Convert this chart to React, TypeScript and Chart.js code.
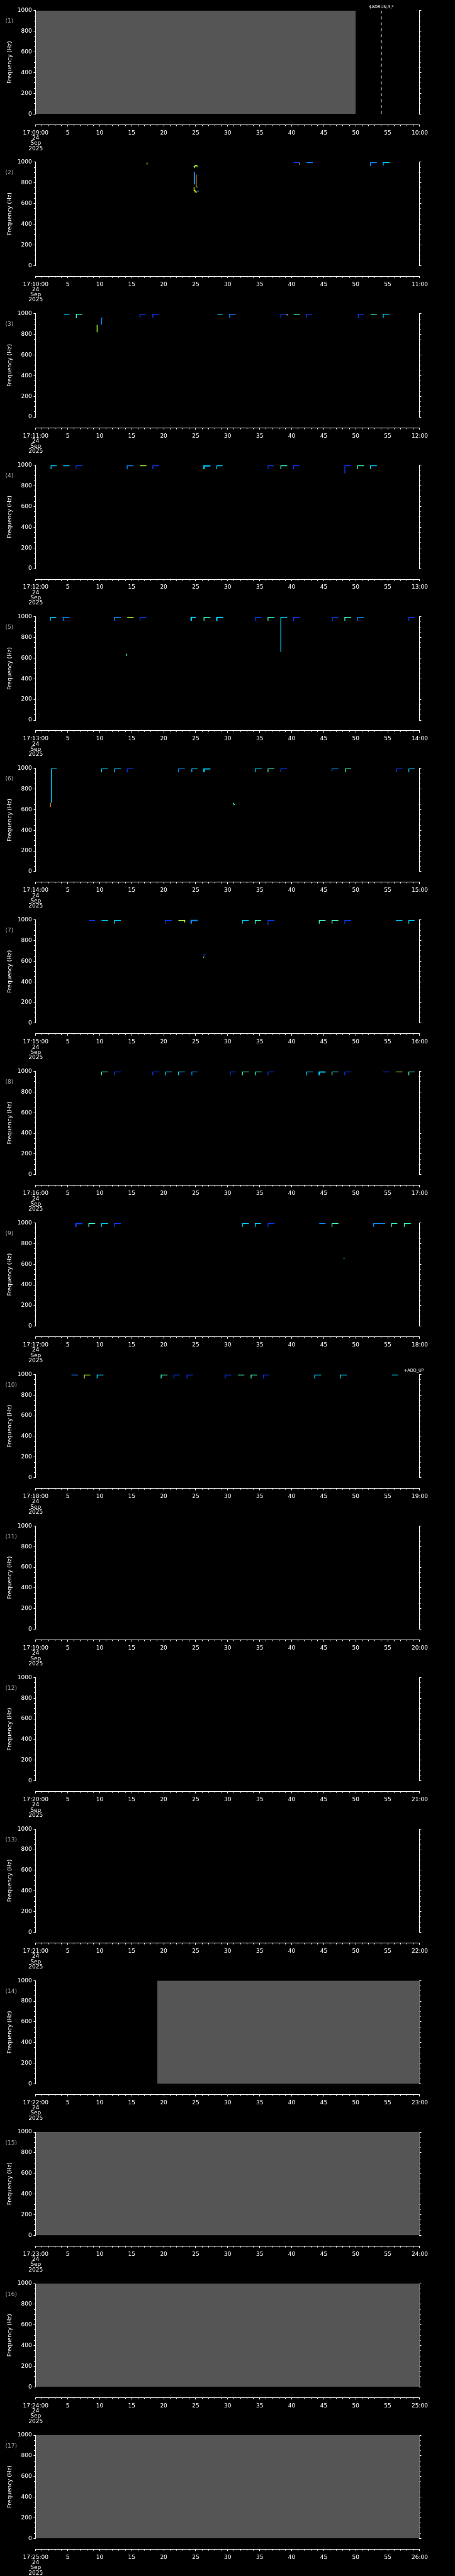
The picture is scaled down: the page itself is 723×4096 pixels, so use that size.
import React, { useEffect, useRef } from 'react';
import { Chart, registerables } from 'chart.js';

Chart.register(...registerables);

// ---------- page geometry ----------
const W = 723;
const H = 4096;
const S = W / 1024;
const N_PANELS = 17;
const PH = H / N_PANELS;

const PLOT_TOP = 24 * S;
const PLOT_BOTTOM = 256.7 * S;
const PLOT_LEFT = 80.3 * S;
const PLOT_RIGHT = 944.6 * S;
const AXIS_Y = 280.7 * S;

const FONT_FAMILY = "'DejaVu Sans', 'Liberation Sans', sans-serif";
const GRAY = '#555555';

// ---------- colours (jet-like intensity scale) ----------
const B = '#0a3cff';
const LB = '#0a8cff';
const C = '#00d2ff';
const G = '#3cffc8';
const YG = '#b4ff3c';
const Y = '#ffff00';
const O = '#ff9600';

// ---------- axes ----------
const START_MINUTES = [9, 10, 11, 12, 13, 14, 15, 16, 17, 18, 19, 20, 21, 22, 23, 24, 25];
const DATE_LINES = ['24', 'Sep', '2025'];
const X_MIN = 0;
const X_MAX = 60;
const X_MAJOR = 5;
const Y_MIN = 0;
const Y_MAX = 1000;
const Y_MAJOR = 200;
const Y_MINOR = 50;
const Y_TITLE = 'Frequency (Hz)';
const TOP_F = 995;

// ---------- data ----------
// Tone: [colour, start s, end s, frequency where the trace rises from (Hz), width?]
type Tone = [string, number, number, number, number?];
// Trace: [colour, [t, f, t, f, ...], width?]
type Trace = [string, number[], number?];

const GRAY_SPANS: ([number, number] | null)[] = [
  [0, 50], null, null, null, null, null, null, null, null, null, null, null, null,
  [19, 60], [0, 60], [0, 60], [0, 60],
];

const EVENTS = [
  { panel: 1, t: 54, text: '$ADRUN,3,*', line: true },
  { panel: 10, t: 59.1, text: '+ADD_UP', line: false },
];

const TONES_1: Tone[] = [];
const TRACES_1: Trace[] = [];

const TONES_2: Tone[] = [
  [B, 40.3, 41.2, 995],
  [LB, 42.3, 43.3, 995],
  [LB, 52.3, 53.3, 962],
  [C, 54.3, 55.3, 967],
];
const TRACES_2: Trace[] = [
  [YG, [17.4, 978, 17.4, 997]],
  [YG, [24.7, 965, 24.85, 950, 24.95, 970, 25.2, 970, 25.2, 950]],
  [LB, [24.8, 785, 24.8, 905], 2],
  [O, [25.07, 880, 25.07, 760]],
  [C, [25.07, 760, 25.3, 760]],
  [Y, [24.75, 757, 24.75, 724, 24.9, 724, 24.9, 712, 25.1, 712, 25.1, 704]],
  [LB, [25.15, 720, 25.5, 720]],
  [O, [41.25, 997, 41.25, 975]],
];

const TONES_3: Tone[] = [
  [C, 4.4, 5.3, 995],
  [G, 6.35, 7.3, 956],
  [B, 16.3, 17.2, 960],
  [B, 18.3, 19.3, 960],
  [C, 28.4, 29.2, 995],
  [LB, 30.3, 31.3, 960],
  [B, 38.3, 39.3, 960],
  [G, 40.3, 41.3, 995],
  [B, 42.3, 43.2, 960],
  [B, 50.4, 51.3, 960],
  [G, 52.3, 53.3, 995],
  [C, 54.3, 55.3, 960],
];
const TRACES_3: Trace[] = [
  [YG, [9.6, 821, 9.6, 893]],
  [LB, [10.3, 893, 10.3, 959, 10.45, 959]],
  [Y, [39.2, 995, 39.35, 985]],
];

const TONES_4: Tone[] = [
  [C, 2.4, 3.3, 962],
  [C, 4.3, 5.3, 995],
  [B, 6.3, 7.3, 962],
  [LB, 14.3, 15.3, 962],
  [YG, 16.3, 17.3, 995],
  [B, 18.3, 19.3, 962],
  [C, 26.3, 27.3, 962, 2.2],
  [C, 28.3, 29.2, 962],
  [B, 36.3, 37.2, 962],
  [G, 38.3, 39.3, 962],
  [B, 40.3, 41.2, 962],
  [B, 48.3, 49.3, 921],
  [G, 50.3, 51.3, 962],
  [C, 52.3, 53.3, 962],
];
const TRACES_4: Trace[] = [];

const TONES_5: Tone[] = [
  [C, 2.3, 3.2, 962],
  [LB, 4.3, 5.3, 962],
  [LB, 12.3, 13.3, 962],
  [YG, 14.3, 15.3, 995],
  [B, 16.3, 17.3, 962],
  [C, 24.3, 25.0, 962, 2.2],
  [G, 26.3, 27.3, 962],
  [C, 28.3, 29.3, 962, 2.2],
  [B, 34.3, 35.3, 962],
  [G, 36.3, 37.3, 962],
  [C, 38.3, 39.3, 660],
  [B, 40.3, 41.3, 962],
  [B, 46.35, 47.3, 962],
  [G, 48.3, 49.3, 962],
  [LB, 50.3, 51.3, 962],
  [B, 58.3, 59.2, 962],
];
const TRACES_5: Trace[] = [
  [G, [14.15, 643, 14.25, 622]],
];

const TONES_6: Tone[] = [
  [C, 2.45, 3.3, 666],
  [C, 10.3, 11.3, 962],
  [C, 12.3, 13.3, 962],
  [B, 14.3, 15.3, 962],
  [LB, 22.3, 23.3, 962],
  [C, 24.4, 25.3, 962],
  [C, 26.3, 27.3, 962, 2.2],
  [C, 34.3, 35.3, 962],
  [G, 36.3, 37.3, 962],
  [B, 38.3, 39.3, 962],
  [LB, 46.3, 47.3, 975],
  [G, 48.4, 49.3, 962],
  [B, 56.4, 57.3, 962],
  [C, 58.3, 59.2, 962],
];
const TRACES_6: Trace[] = [
  [O, [2.3, 625, 2.3, 666]],
  [G, [30.85, 666, 31.0, 648, 31.15, 648]],
];

const TONES_7: Tone[] = [
  [B, 8.3, 9.3, 995],
  [C, 10.3, 11.3, 995],
  [C, 12.3, 13.3, 962],
  [B, 20.3, 21.3, 962],
  [LB, 24.3, 25.3, 962, 2.2],
  [C, 32.3, 33.3, 962],
  [G, 34.3, 35.2, 962],
  [B, 36.3, 37.3, 950],
  [G, 44.3, 45.3, 962],
  [G, 46.3, 47.3, 962],
  [B, 48.3, 49.3, 962],
  [C, 56.3, 57.3, 995],
  [C, 58.3, 59.2, 962],
];
const TRACES_7: Trace[] = [
  [YG, [22.3, 995, 23.3, 995, 23.3, 975]],
  [B, [26.3, 668, 26.3, 640]],
  [Y, [26.15, 638, 26.3, 638]],
];

const TONES_8: Tone[] = [
  [G, 10.3, 11.3, 962],
  [B, 12.3, 13.3, 962],
  [B, 18.3, 19.3, 962],
  [C, 20.3, 21.3, 962],
  [C, 22.3, 23.3, 962],
  [LB, 24.4, 25.3, 962],
  [B, 30.4, 31.3, 962],
  [G, 32.3, 33.3, 962],
  [G, 34.3, 35.3, 962],
  [B, 36.3, 37.3, 962],
  [C, 42.3, 43.3, 962],
  [C, 44.3, 45.3, 962, 2.2],
  [G, 46.3, 47.3, 962],
  [B, 48.3, 49.3, 962],
  [B, 54.3, 55.3, 995],
  [YG, 56.3, 57.3, 995],
  [G, 58.3, 59.2, 962],
];
const TRACES_8: Trace[] = [];

const TONES_9: Tone[] = [
  [B, 6.3, 7.3, 962, 2.2],
  [G, 8.3, 9.3, 962],
  [C, 10.3, 11.3, 962],
  [B, 12.3, 13.3, 962],
  [C, 32.3, 33.3, 962],
  [C, 34.3, 35.2, 962],
  [B, 36.3, 37.3, 962],
  [LB, 44.3, 45.3, 995],
  [G, 46.3, 47.3, 962],
  [LB, 52.8, 54.6, 962],
  [G, 55.6, 56.5, 962],
  [G, 57.6, 58.6, 962],
];
const TRACES_9: Trace[] = [
  [C, [48.1, 657, 48.25, 652]],
];

const TONES_10: Tone[] = [
  [LB, 5.6, 6.6, 995],
  [YG, 7.6, 8.55, 962],
  [C, 9.6, 10.6, 962],
  [G, 19.6, 20.6, 962],
  [B, 21.6, 22.5, 962],
  [B, 23.65, 24.6, 962],
  [B, 29.6, 30.6, 962],
  [G, 31.6, 32.6, 995],
  [G, 33.65, 34.6, 962],
  [B, 35.6, 36.5, 962],
  [C, 43.6, 44.6, 962],
  [C, 47.6, 48.6, 962],
  [C, 55.65, 56.6, 995],
];
const TRACES_10: Trace[] = [];

const TONES: Tone[][] = [
  TONES_1, TONES_2, TONES_3, TONES_4, TONES_5, TONES_6, TONES_7, TONES_8, TONES_9, TONES_10,
  [], [], [], [], [], [], [],
];
const TRACES: Trace[][] = [
  TRACES_1, TRACES_2, TRACES_3, TRACES_4, TRACES_5, TRACES_6, TRACES_7, TRACES_8, TRACES_9, TRACES_10,
  [], [], [], [], [], [], [],
];

// ---------- helpers ----------
const pad2 = (n: number) => (n < 10 ? '0' + n : String(n));

function buildConfig(i: number, canvasH: number, delta: number): any {
  const top = PLOT_TOP + delta;
  const bottom = PLOT_BOTTOM + delta;
  const gap = AXIS_Y - PLOT_BOTTOM;
  const minute = START_MINUTES[i];
  const datasets: any[] = [];

  const gray = GRAY_SPANS[i];
  if (gray) {
    datasets.push({
      data: [{ x: gray[0], y: Y_MAX }, { x: gray[1], y: Y_MAX }],
      fill: 'origin',
      backgroundColor: GRAY,
      borderColor: 'rgba(0,0,0,0)',
      borderWidth: 0,
      pointRadius: 0,
      order: 10,
    });
  }
  const evs = EVENTS.filter((e) => e.panel === i + 1);
  for (const ev of evs) {
    if (!ev.line) continue;
    datasets.push({
      data: [{ x: ev.t, y: Y_MIN }, { x: ev.t, y: Y_MAX }],
      borderColor: '#ffffff',
      borderWidth: 1,
      borderDash: [4.7, 4.7],
      pointRadius: 0,
      fill: false,
    });
  }
  for (const [color, t0, t1, fLow, w] of TONES[i]) {
    datasets.push({
      data: [{ x: t0, y: fLow }, { x: t0, y: TOP_F }, { x: t1, y: TOP_F }],
      borderColor: color,
      borderWidth: w ?? 1.3,
      pointRadius: 0,
      fill: false,
    });
  }
  for (const [color, pts, w] of TRACES[i]) {
    const data: { x: number; y: number }[] = [];
    for (let k = 0; k < pts.length; k += 2) data.push({ x: pts[k], y: pts[k + 1] });
    datasets.push({ data, borderColor: color, borderWidth: w ?? 1.3, pointRadius: 0, fill: false });
  }

  const font = { family: FONT_FAMILY, size: 9 };

  const decoPlugin = {
    id: 'deco' + i,
    afterLayout(chart: any) {
      const xs = chart.scales.x;
      xs.top = chart.chartArea.bottom + gap;
    },
    afterDraw(chart: any) {
      const ctx = chart.ctx;
      ctx.save();
      ctx.font = `9px ${FONT_FAMILY}`;
      ctx.fillStyle = '#a8a8a8';
      ctx.textAlign = 'left';
      ctx.textBaseline = 'middle';
      ctx.fillText(`(${i + 1})`, 12 * S, 48.3 * S + delta);
      ctx.font = `6.5px ${FONT_FAMILY}`;
      ctx.fillStyle = '#ffffff';
      ctx.textAlign = 'center';
      for (const ev of evs) {
        const px = chart.scales.x.getPixelForValue(ev.t);
        ctx.fillText(ev.text, px, 15.7 * S + delta);
      }
      ctx.restore();
    },
  };

  const isMajorY = (c: any) => c.tick && Math.round(c.tick.value) % Y_MAJOR === 0;
  const isMajorX = (c: any) => c.tick && Math.round(c.tick.value) % X_MAJOR === 0;

  return {
    type: 'line',
    data: { datasets },
    options: {
      animation: false,
      responsive: false,
      maintainAspectRatio: false,
      devicePixelRatio: 1,
      events: [],
      layout: { padding: { top, left: 0, right: 0, bottom: 0 } },
      plugins: { legend: { display: false }, tooltip: { enabled: false }, title: { display: false } },
      scales: {
        x: {
          type: 'linear',
          position: 'bottom',
          min: X_MIN,
          max: X_MAX,
          afterFit: (s: any) => {
            s.height = canvasH - bottom;
          },
          border: { display: true, color: '#ffffff', width: 1 },
          grid: {
            drawOnChartArea: false,
            drawTicks: true,
            tickLength: 3,
            tickColor: '#ffffff',
            tickWidth: 1,
            tickBorderDash: (c: any) => (isMajorX(c) ? [] : [1.6, 20]),
          },
          ticks: {
            stepSize: 1,
            autoSkip: false,
            maxRotation: 0,
            minRotation: 0,
            color: '#ffffff',
            font: { family: FONT_FAMILY, size: 9, lineHeight: 0.92 },
            padding: 6,
            callback: (v: any) => {
              const n = Math.round(Number(v));
              if (n === X_MIN) return [`17:${pad2(minute)}:00`, ...DATE_LINES];
              if (n === X_MAX) return `${pad2(minute + 1)}:00`;
              return n % X_MAJOR === 0 ? String(n) : '';
            },
          },
        },
        y: {
          type: 'linear',
          position: 'left',
          min: Y_MIN,
          max: Y_MAX,
          afterFit: (s: any) => {
            s.width = PLOT_LEFT;
          },
          border: { display: true, color: '#ffffff', width: 1 },
          grid: {
            drawOnChartArea: false,
            drawTicks: true,
            tickLength: 3.3,
            tickColor: '#ffffff',
            tickWidth: 1,
            tickBorderDash: (c: any) => (isMajorY(c) ? [] : [0, 0.8, 1.8, 20]),
          },
          ticks: {
            stepSize: Y_MINOR,
            autoSkip: false,
            color: '#ffffff',
            font,
            padding: 2.7,
            callback: (v: any) => {
              const n = Math.round(Number(v));
              return n % Y_MAJOR === 0 ? String(n) : '';
            },
          },
          title: {
            display: true,
            text: Y_TITLE,
            color: '#ffffff',
            font,
            padding: { top: 10.5, bottom: 0 },
          },
        },
        y2: {
          type: 'linear',
          position: 'right',
          min: Y_MIN,
          max: Y_MAX,
          afterFit: (s: any) => {
            s.width = W - PLOT_RIGHT;
          },
          border: { display: true, color: '#ffffff', width: 1 },
          grid: {
            drawOnChartArea: false,
            drawTicks: true,
            tickLength: 2.5,
            tickColor: '#ffffff',
            tickWidth: 1,
            tickBorderDash: (c: any) => (isMajorY(c) ? [] : [1.4, 20]),
          },
          ticks: {
            stepSize: Y_MINOR,
            autoSkip: false,
            color: '#ffffff',
            font,
            padding: 0,
            callback: () => '',
          },
        },
      },
    },
    plugins: [decoPlugin],
  };
}

function Panel({ idx }: { idx: number }) {
  const ref = useRef<HTMLCanvasElement | null>(null);
  const top = Math.round(idx * PH);
  const h = Math.round((idx + 1) * PH) - top;
  useEffect(() => {
    const canvas = ref.current;
    if (!canvas) return;
    const delta = idx * PH - top;
    const chart = new Chart(canvas, buildConfig(idx, h, delta));
    return () => chart.destroy();
  }, [idx, top, h]);
  return (
    <canvas
      ref={ref}
      width={W}
      height={h}
      style={{ position: 'absolute', left: 0, top, width: W, height: h, display: 'block' }}
    />
  );
}

export default function App() {
  useEffect(() => {
    document.body.style.margin = '0';
    document.body.style.background = '#000000';
  }, []);
  const idxs = START_MINUTES.map((_, i) => i);
  return (
    <div
      style={{
        position: 'absolute',
        left: 0,
        top: 0,
        width: W,
        height: H,
        background: '#000000',
        overflow: 'hidden',
      }}
    >
      {idxs.map((i) => (
        <Panel key={i} idx={i} />
      ))}
    </div>
  );
}
